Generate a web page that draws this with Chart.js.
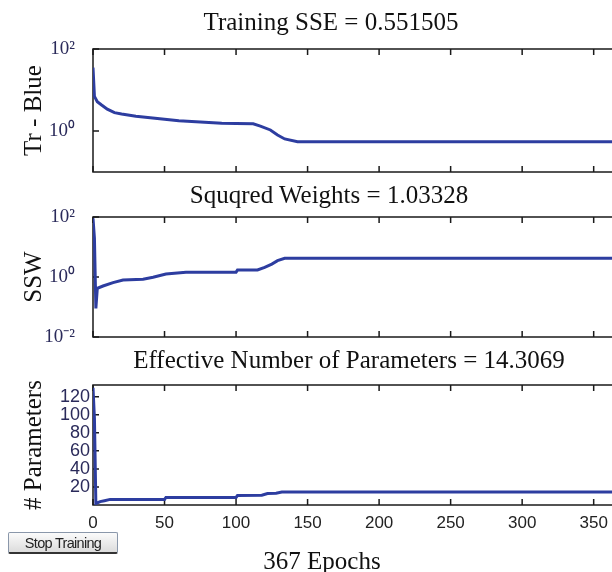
<!DOCTYPE html>
<html>
<head>
<meta charset="utf-8">
<title>Training</title>
<script src="https://cdn.jsdelivr.net/npm/chart.js@4.4.1/dist/chart.umd.min.js"></script>
<style>
  html, body { margin: 0; padding: 0; background: #fff; }
  body { width: 612px; height: 572px; overflow: hidden; position: relative; }
  canvas { position: absolute; left: 0; }
  .lbl { position: absolute; width: 460px; text-align: center; font-family: 'Liberation Serif', serif;
         font-size: 25px; line-height: 25px; color: #111; white-space: nowrap; }
  #stop { position: absolute; left: 8px; top: 532px; width: 110px; height: 22px; box-sizing: border-box;
          border: 1px solid #8a97aa; border-bottom: 2px solid #333; border-radius: 2px;
          background: linear-gradient(#fbfbfb, #dcdcdc);
          font-family: 'Liberation Sans', sans-serif; font-size: 14.5px; line-height: 20px;
          letter-spacing: -0.7px; text-align: center; color: #222; }
</style>
</head>
<body>
<canvas id="c1" width="620" height="180" style="top:0px"></canvas>
<canvas id="c2" width="620" height="170" style="top:180px"></canvas>
<canvas id="c3" width="620" height="222" style="top:350px"></canvas>

<div class="lbl" style="left:101px; top:9px">Training SSE = 0.551505</div>
<div class="lbl" style="left:99px; top:182px">Squqred Weights = 1.03328</div>
<div class="lbl" style="left:119px; top:347px">Effective Number of Parameters = 14.3069</div>
<div class="lbl" style="left:92px; top:548px">367 Epochs</div>
<div id="stop">Stop Training</div>

<script>
//------------------------------------------------------
// DATA
//------------------------------------------------------
const xTicks = [0, 50, 100, 150, 200, 250, 300, 350];
const epochCount = 367;

// training SSE (log axis)
const sseEpochs = [0, 1, 3, 6, 10, 15, 20, 30, 40, 50, 60, 75, 90, 100, 112, 117, 124, 129, 134, 143, 367];
const sseValues = [35, 7.0, 5.2, 4.3, 3.4, 2.8, 2.6, 2.3, 2.1, 1.93, 1.78, 1.66, 1.55, 1.52, 1.50, 1.32, 1.06, 0.80, 0.64, 0.55, 0.55];
const sseTicks = [1, 100];

// sum of squared weights (log axis)
const sswEpochs = [0, 1, 2, 3, 7, 14, 21, 35, 42, 51, 65, 81, 100, 101, 115, 120, 125, 129, 134, 367];
const sswValues = [90, 20, 0.09, 0.42, 0.5, 0.65, 0.79, 0.84, 0.98, 1.26, 1.45, 1.45, 1.45, 1.7, 1.72, 2.1, 2.7, 3.5, 4.2, 4.2];
const sswTicks = [0.01, 1, 100];

// effective number of parameters
const parEpochs = [0, 1, 2, 3, 5, 8, 12, 50, 51, 100, 101, 118, 122, 128, 132, 367];
const parValues = [130, 96, 1.5, 2.5, 3.8, 4.8, 6.2, 6.2, 8.4, 8.4, 10.5, 10.8, 12.7, 13.0, 14.3, 14.3];
const parTicks = [20, 40, 60, 80, 100, 120];

//------------------------------------------------------
// helpers
//------------------------------------------------------
const lineBlue = '#2d3da0';
const sup = {'-': '\u207B', '0': '\u2070', '1': '\u00B9', '2': '\u00B2', '3': '\u00B3'};
const pow10 = v => '10' + String(Math.round(Math.log10(v))).split('').map(c => sup[c]).join('');

// matlab style box with inward ticks
const boxPlugin = {
  id: 'box',
  beforeDatasetsDraw(chart) {
    const {ctx, chartArea: a, scales} = chart;
    ctx.save();
    ctx.strokeStyle = '#1a1a1a';
    ctx.lineWidth = 1.5;
    ctx.strokeRect(a.left, a.top, a.right - a.left, a.bottom - a.top);
    ctx.beginPath();
    scales.x.ticks.forEach(t => {
      const p = scales.x.getPixelForValue(t.value);
      ctx.moveTo(p, a.bottom); ctx.lineTo(p, a.bottom - 6);
      ctx.moveTo(p, a.top); ctx.lineTo(p, a.top + 6);
    });
    scales.y.ticks.forEach(t => {
      const p = scales.y.getPixelForValue(t.value);
      ctx.moveTo(a.left, p); ctx.lineTo(a.left + 6, p);
      ctx.moveTo(a.right, p); ctx.lineTo(a.right - 6, p);
    });
    ctx.stroke();
    ctx.restore();
  }
};

function makeChart(id, epochs, values, yOpts, pad, showX, xHeight) {
  const pts = epochs.map((e, i) => ({x: e, y: values[i]}));
  return new Chart(document.getElementById(id), {
    type: 'line',
    data: {
      datasets: [{
        data: pts,
        borderColor: lineBlue,
        borderWidth: 3,
        pointRadius: 0,
        fill: false,
        tension: 0,
      }]
    },
    options: {
      responsive: false,
      animation: false,
      events: [],
      layout: { padding: pad },
      plugins: { legend: { display: false }, tooltip: { enabled: false } },
      scales: {
        x: {
          type: 'linear',
          min: 0,
          max: epochCount,
          grid: { display: false, drawTicks: false },
          border: { display: false },
          afterBuildTicks: s => { s.ticks = xTicks.map(v => ({value: v})); },
          afterFit: s => { s.height = xHeight; },
          ticks: {
            display: showX,
            autoSkip: false,
            padding: 8,
            maxRotation: 0,
            color: '#222',
            font: { family: "'Liberation Sans'", size: 17 },
          }
        },
        y: Object.assign({
          grid: { display: false, drawTicks: false },
          border: { display: false },
          // fixed axis width, no extra room for the edge labels
          afterFit: s => { s.width = 93; s.paddingTop = 0; s.paddingBottom = 0; },
        }, yOpts)
      }
    },
    plugins: [boxPlugin]
  });
}

const yTitle = txt => ({
  display: true,
  text: txt,
  color: '#111',
  padding: { top: 19, bottom: 0 },
  font: { family: "'Liberation Serif'", size: 25 }
});

makeChart('c1', sseEpochs, sseValues, {
  type: 'logarithmic', min: 0.1, max: 100,
  afterBuildTicks: s => { s.ticks = sseTicks.map(v => ({value: v})); },
  ticks: { autoSkip: false, padding: 18, color: '#2a2a5a', callback: v => pow10(v),
           font: { family: "'Liberation Serif'", size: 19 } },
  title: yTitle('Tr - Blue')
}, {top: 49, right: 2, bottom: 8, left: 0}, false, 0);

makeChart('c2', sswEpochs, sswValues, {
  type: 'logarithmic', min: 0.01, max: 100,
  afterBuildTicks: s => { s.ticks = sswTicks.map(v => ({value: v})); },
  ticks: { autoSkip: false, padding: 18, color: '#2a2a5a', callback: v => pow10(v),
           font: { family: "'Liberation Serif'", size: 19 } },
  title: yTitle('SSW')
}, {top: 37, right: 2, bottom: 13, left: 0}, false, 0);

makeChart('c3', parEpochs, parValues, {
  type: 'linear', min: 0, max: 133,
  afterBuildTicks: s => { s.ticks = parTicks.map(v => ({value: v})); },
  ticks: { autoSkip: false, padding: 3, color: '#2a2a5a',
           font: { family: "'Liberation Sans'", size: 18 } },
  title: yTitle('# Parameters')
}, {top: 35, right: 2, bottom: 0, left: 0}, true, 67);
</script>
</body>
</html>
